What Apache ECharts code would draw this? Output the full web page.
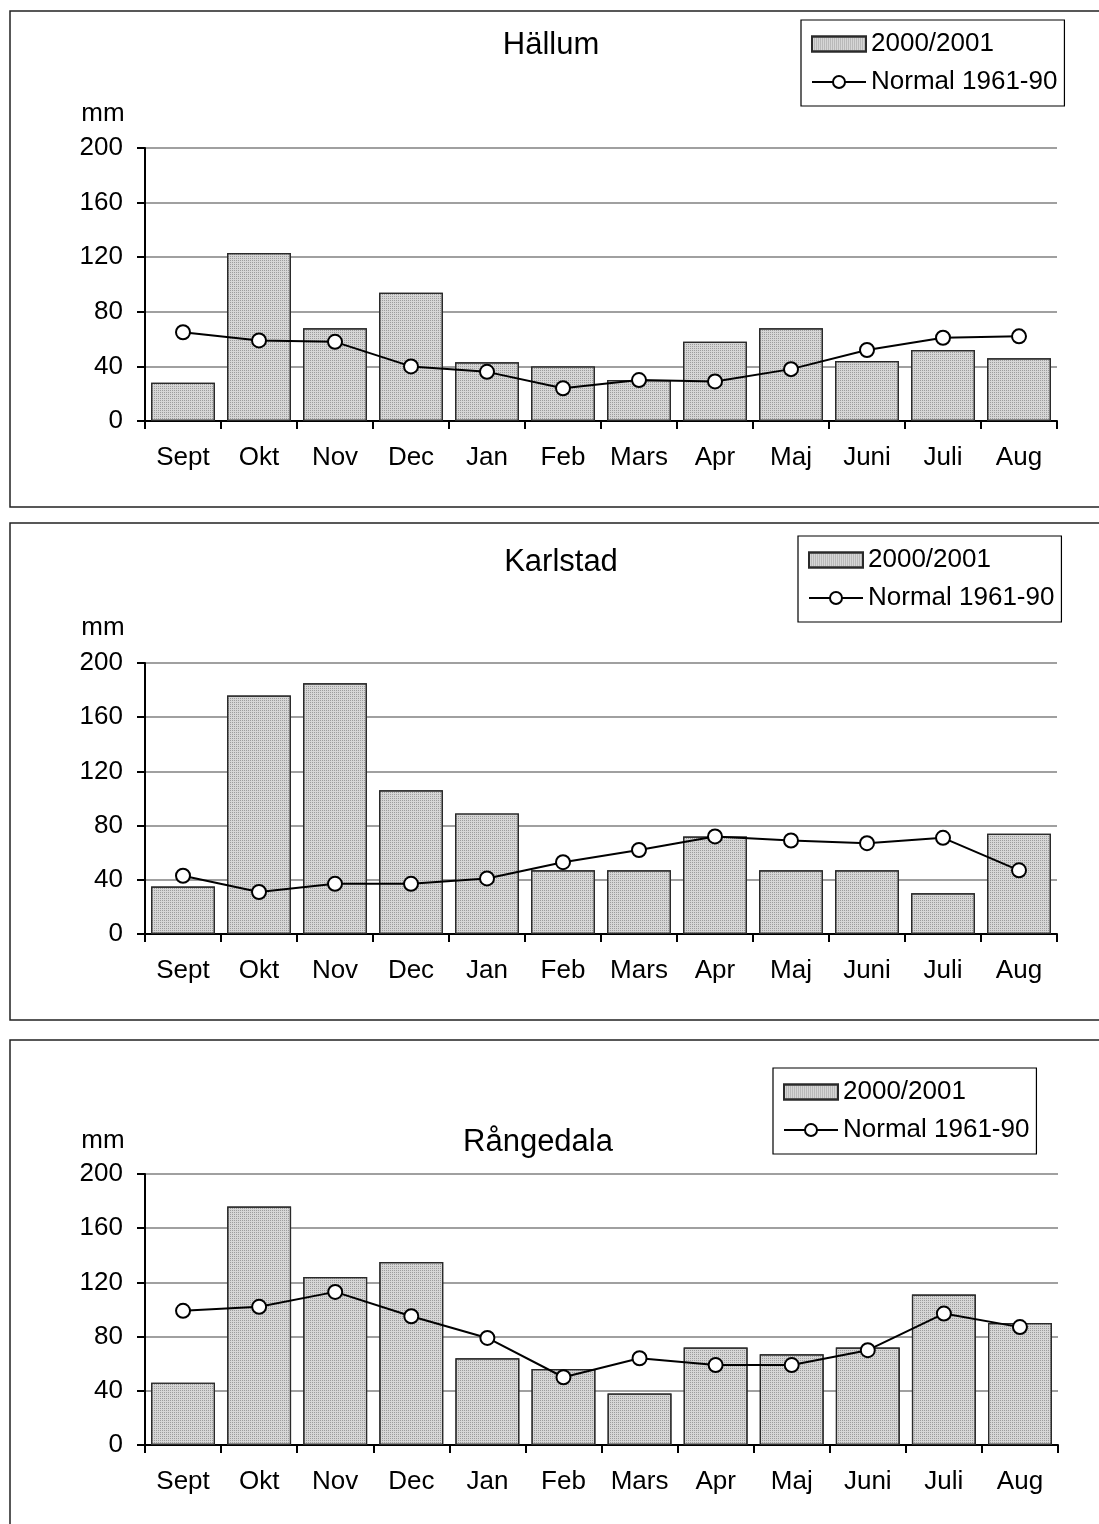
<!DOCTYPE html>
<html>
<head>
<meta charset="utf-8">
<style>
  html, body { margin: 0; padding: 0; background: #fff; }
  #chart { width: 1099px; height: 1524px; }
</style>
<script src="https://cdn.jsdelivr.net/npm/echarts@6/dist/echarts.min.js"></script>
</head>
<body>
<div id="chart"></div>
<script>
// Monthly precipitation (mm), hydrological year Sept 2000 – Aug 2001
const months = ['Sept', 'Okt', 'Nov', 'Dec', 'Jan', 'Feb', 'Mars', 'Apr', 'Maj', 'Juni', 'Juli', 'Aug'];
const yearLabel = '2000/2001';
const normalLabel = 'Normal 1961-90';

const hallumYear = [28, 123, 68, 94, 43, 40, 30, 58, 68, 44, 52, 46];
const hallumNormal = [65, 59, 58, 40, 36, 24, 30, 29, 38, 52, 61, 62];

const karlstadYear = [35, 176, 185, 106, 89, 47, 47, 72, 47, 47, 30, 74];
const karlstadNormal = [43, 31, 37, 37, 41, 53, 62, 72, 69, 67, 71, 47];

const rangedalaYear = [46, 176, 124, 135, 64, 56, 38, 72, 67, 72, 111, 90];
const rangedalaNormal = [99, 102, 113, 95, 79, 50, 64, 59, 59, 70, 97, 87];

const yMin = 0, yMax = 200, yStep = 40;

const stations = [
  { name: 'Hällum', year: hallumYear, normal: hallumNormal },
  { name: 'Karlstad', year: karlstadYear, normal: karlstadNormal },
  { name: 'Rångedala', year: rangedalaYear, normal: rangedalaNormal }
];

// Layout of the three stacked panels
const FONT = '"Liberation Sans", Arial, sans-serif';
const panels = [
  { boxTop: 11, boxBottom: 507, gridTop: 148, gridH: 273, gridLeft: 145, gridW: 912,
    title: [551, 45], mm: [103, 114], legend: [801, 20] },
  { boxTop: 523, boxBottom: 1020, gridTop: 663, gridH: 271, gridLeft: 145, gridW: 912,
    title: [561, 562], mm: [103, 628], legend: [798, 536] },
  { boxTop: 1040, boxBottom: 1540, gridTop: 1174, gridH: 271, gridLeft: 145, gridW: 913,
    title: [538, 1142], mm: [103, 1141], legend: [773, 1068] }
];

// fine stipple fill used for the yearly bars
const barFill = {
  color: '#d6d6d6',
  borderColor: '#2a2a2a',
  borderWidth: 1.2,
  decal: {
    symbol: 'rect', symbolSize: 1,
    dashArrayX: [1, 1], dashArrayY: [1, 1],
    color: 'rgba(110,110,110,0.55)', rotation: 0
  }
};

const grid = [], xAxis = [], yAxis = [], series = [], legend = [], graphic = [];

panels.forEach((p, i) => {
  const st = stations[i];
  grid.push({ left: p.gridLeft, top: p.gridTop, width: p.gridW, height: p.gridH, containLabel: false });

  xAxis.push({
    type: 'category', gridIndex: i, data: months,
    axisLine: { lineStyle: { color: '#000', width: 2 } },
    axisTick: { show: true, inside: false, length: 8, lineStyle: { color: '#000', width: 2 } },
    axisLabel: { color: '#000', fontFamily: FONT, fontSize: 26, margin: 24 },
    splitLine: { show: false }
  });

  yAxis.push({
    type: 'value', gridIndex: i, min: yMin, max: yMax, interval: yStep,
    axisLine: { show: true, lineStyle: { color: '#000', width: 2 } },
    axisTick: { show: true, inside: false, length: 8, lineStyle: { color: '#000', width: 2 } },
    axisLabel: { color: '#000', fontFamily: FONT, fontSize: 26, margin: 22 },
    splitLine: { show: true, lineStyle: { color: '#808080', width: 1.5 } }
  });

  series.push({
    name: yearLabel, type: 'bar', xAxisIndex: i, yAxisIndex: i,
    data: st.year, barWidth: '84%',
    itemStyle: barFill,
    emphasis: { disabled: true }, z: 2
  });

  series.push({
    name: normalLabel, type: 'line', xAxisIndex: i, yAxisIndex: i,
    data: st.normal, symbol: 'circle', symbolSize: 14,
    lineStyle: { color: '#000', width: 2 },
    itemStyle: { color: '#fff', borderColor: '#000', borderWidth: 2 },
    emphasis: { disabled: true }, z: 3
  });

  legend.push({
    orient: 'vertical', left: p.legend[0], top: p.legend[1],
    data: [{ name: yearLabel, icon: 'rect' }, { name: normalLabel }],
    itemWidth: 54, itemHeight: 15, itemGap: 10,
    padding: [10, 7, 10, 10],
    borderColor: '#000', borderWidth: 1.2, backgroundColor: '#fff',
    textStyle: { color: '#000', fontFamily: FONT, fontSize: 26, lineHeight: 28 },
    selectedMode: false
  });

  // panel frame
  graphic.push({
    type: 'rect', silent: true, z: -10,
    shape: { x: 10, y: p.boxTop, width: 1200, height: p.boxBottom - p.boxTop },
    style: { fill: 'none', stroke: '#222', lineWidth: 1.5 }
  });
  // station name
  graphic.push({
    type: 'text', silent: true, x: p.title[0], y: p.title[1],
    style: { text: st.name, font: '31px ' + FONT, fill: '#000', textAlign: 'center', textVerticalAlign: 'middle' }
  });
  // unit label
  graphic.push({
    type: 'text', silent: true, x: p.mm[0], y: p.mm[1],
    style: { text: 'mm', font: '26px ' + FONT, fill: '#000', textAlign: 'center', textVerticalAlign: 'middle' }
  });
});

const chart = echarts.init(document.getElementById('chart'), null, { renderer: 'canvas' });
chart.setOption({
  animation: false,
  backgroundColor: '#fff',
  aria: { enabled: false, decal: { show: false } },
  grid, xAxis, yAxis, series, legend, graphic,
  tooltip: { show: false }
});
</script>
</body>
</html>
